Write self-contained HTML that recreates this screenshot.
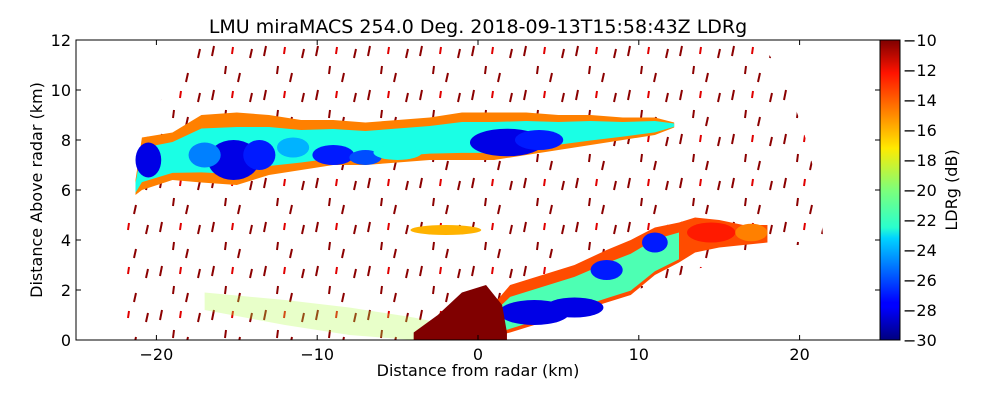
<!DOCTYPE html>
<html><head><meta charset="utf-8"><style>
body{margin:0;background:#fff;}
svg{display:block;font-family:"DejaVu Sans","Liberation Sans",sans-serif;}
</style></head><body>
<svg id="chart" width="1000" height="400" viewBox="0 0 1000 400" xmlns="http://www.w3.org/2000/svg">
<defs>
<pattern id="dashes" width="52" height="44" patternUnits="userSpaceOnUse">
<g stroke="#8b0000" stroke-width="2">
<line x1="4" y1="12" x2="6" y2="2"/><line x1="30" y1="38" x2="32" y2="29"/><line x1="42" y1="14" x2="44" y2="5"/>
<line x1="17" y1="30" x2="18" y2="22"/>
</g>
<line x1="24" y1="10" x2="25" y2="3" stroke="#e00000" stroke-width="2"/>
</pattern>
<linearGradient id="jet" x1="0" y1="1" x2="0" y2="0">
<stop offset="0" stop-color="#00007f"/><stop offset="0.11" stop-color="#0000ff"/>
<stop offset="0.125" stop-color="#0000ff"/><stop offset="0.34" stop-color="#00d4ff"/>
<stop offset="0.375" stop-color="#29ffce"/><stop offset="0.5" stop-color="#7dff7a"/>
<stop offset="0.64" stop-color="#ffea00"/><stop offset="0.66" stop-color="#ffd800"/>
<stop offset="0.89" stop-color="#ff1300"/><stop offset="1" stop-color="#7f0000"/>
</linearGradient>
<clipPath id="plotclip"><rect x="76" y="40" width="804" height="300"/></clipPath>
</defs>
<text x="478" y="33" font-size="19" text-anchor="middle">LMU miraMACS 254.0 Deg. 2018-09-13T15:58:43Z  LDRg</text>
<g id="plot" clip-path="url(#plotclip)"></g>
<rect x="76" y="40" width="804" height="300" fill="none" stroke="#000" stroke-width="1"/>
<g id="axes"></g>
<rect x="880" y="40" width="20" height="300" fill="url(#jet)" stroke="#000" stroke-width="1"/>
<text transform="translate(957,190) rotate(-90)" font-size="16" text-anchor="middle">LDRg (dB)</text>
<text x="478" y="376" font-size="16" text-anchor="middle">Distance from radar (km)</text>
<text transform="translate(42,190) rotate(-90)" font-size="16" text-anchor="middle">Distance Above radar  (km)</text>
</svg>
<script>
// axis ticks
const xTicks=[-20,-10,0,10,20];
const yTicks=[0,2,4,6,8,10,12];
const cbTicks=[-10,-12,-14,-16,-18,-20,-22,-24,-26,-28,-30];
// upper cloud band outline (km)
const bandX=[-21.3,-20.9,-19,-17.2,-15,-13,-11,-9,-7,-5,-3,-1,1,3,5,7,9,11,12.2];
const bandTop=[6.4,8.1,8.3,9.0,9.1,9.0,8.8,8.8,8.7,8.8,8.9,9.1,9.1,9.1,9.0,9.0,8.9,8.9,8.7];
const bandBot=[5.8,6.0,6.4,6.3,6.2,6.6,6.8,7.0,7.0,7.1,7.2,7.2,7.2,7.4,7.6,7.8,8.0,8.2,8.5];
// lower cloud band outline
const lowX=[0.8,2,4,6,8,9.5,11,12.5,13.5,15,16.5,18];
const lowTop=[1.3,2.2,2.6,3.0,3.6,4.0,4.5,4.7,4.9,4.8,4.6,4.6];
const lowBot=[0.1,0.3,0.7,1.1,1.5,1.8,2.6,3.1,3.5,3.7,3.8,3.9];
// cloud cores: center x, center y, radius x, radius y (km), LDR (dB)
const coreX=[-20.5,-15.2,-13.6,-11.5,-9,-7,1.8,3.8,-17,-5,3.5,6,8,11,-2,14.5,17];
const coreY=[7.2,7.2,7.4,7.7,7.4,7.3,7.9,8.0,7.4,7.5,1.1,1.3,2.8,3.9,4.4,4.3,4.3];
const coreRX=[0.8,1.6,1.0,1.0,1.3,1.0,2.3,1.5,1.0,1.5,2.2,1.8,1.0,0.8,2.2,1.5,1.0];
const coreRY=[0.7,0.8,0.6,0.4,0.4,0.3,0.55,0.4,0.5,0.3,0.5,0.4,0.4,0.4,0.2,0.4,0.35];
const coreLDR=[-28,-28,-27,-24,-27,-26,-28,-27,-25,-22,-28,-28,-27,-27,-16,-13,-15];
// low streak and near-radar clutter
const streakX=[-17,-12,-8,-4,-1];
const streakTop=[1.9,1.6,1.3,0.9,0.5];
const streakBot=[1.2,0.6,0.2,0.0,0.0];
const clutterX=[-4,-2.5,-1,0.5,1.5,1.8];
const clutterTop=[0.3,1.0,1.9,2.2,1.4,0.3];

const X0=76,X1=880,Y0=340,Y1=40;
const sx=v=>X0+(v+25)/50*(X1-X0);
const sy=v=>Y0+(v/12)*(Y1-Y0);
const NS="http://www.w3.org/2000/svg";
function jet(v){let t=(v+30)/20;t=Math.max(0,Math.min(1,t));
 const c=a=>Math.round(255*Math.max(0,Math.min(1,1.5-Math.abs(4*t-a))));
 return `rgb(${c(3)},${c(2)},${c(1)})`;}
const plot=document.getElementById('plot');
const axes=document.getElementById('axes');
function mk(tag,attrs,parent){const e=document.createElementNS(NS,tag);for(const k in attrs)e.setAttribute(k,attrs[k]);parent.appendChild(e);return e;}
function bandPath(xs,top,bot){let d='';xs.forEach((x,i)=>d+=(i?'L':'M')+sx(x)+','+sy(top[i]));
 for(let i=xs.length-1;i>=0;i--)d+='L'+sx(xs[i])+','+sy(bot[i]);return d+'Z';}

// scattered echoes region
const scat=mk('path',{d:`M${sx(-22)},${sy(0)} L${sx(-22)},${sy(5)} Q${sx(-20)},${sy(11)} ${sx(-16)},${sy(12.5)} L${sx(17)},${sy(12.5)} Q${sx(21)},${sy(9)} ${sx(21.5)},${sy(3.8)} L${sx(18)},${sy(3.8)} L${sx(0.8)},${sy(0)} Z`,fill:'url(#dashes)'},plot);



// streak
const st=mk('path',{d:bandPath(streakX,streakTop,streakBot),fill:jet(-19),opacity:0.3},plot);



// upper band layers
const b1=mk('path',{d:bandPath(bandX,bandTop,bandBot),fill:jet(-15)},plot);


const innerTop=bandTop.map((v,i)=>v-(v-bandBot[i])*0.2);
const innerBot=bandBot.map((v,i)=>v+(bandTop[i]-v)*0.15);
const b2=mk('path',{d:bandPath(bandX,innerTop,innerBot),fill:jet(-22)},plot);



// lower band
const l1=mk('path',{d:bandPath(lowX,lowTop,lowBot),fill:jet(-14)},plot);


const lInTop=lowTop.map((v,i)=>v-(v-lowBot[i])*0.25);
const lInBot=lowBot.map((v,i)=>v+(lowTop[i]-v)*0.08);
const l2=mk('path',{d:bandPath(lowX.slice(0,8),lInTop.slice(0,8),lInBot.slice(0,8)),fill:jet(-21)},plot);



// cores
coreX.forEach((x,i)=>{
 const e=mk('ellipse',{cx:sx(x),cy:sy(coreY[i]),rx:coreRX[i]*(X1-X0)/50,ry:coreRY[i]*300/12,fill:jet(coreLDR[i])},plot);
 
 
});

// near-radar clutter
let d='M'+sx(clutterX[0])+','+sy(0);
clutterX.forEach((x,i)=>d+='L'+sx(x)+','+sy(clutterTop[i]));
d+='L'+sx(1.8)+','+sy(0)+'Z';
const cl=mk('path',{d:d,fill:jet(-10)},plot);



// ticks
xTicks.forEach(v=>{
 mk('line',{x1:sx(v),x2:sx(v),y1:Y0,y2:Y0-5,stroke:'#000'},axes);
 mk('line',{x1:sx(v),x2:sx(v),y1:Y1,y2:Y1+5,stroke:'#000'},axes);
 const t=mk('text',{x:sx(v),y:Y0+20,'font-size':16,'text-anchor':'middle'},axes);
 t.textContent=(v<0?'\u2212'+(-v):v);
 
 
});
yTicks.forEach(v=>{
 mk('line',{x1:X0,x2:X0+5,y1:sy(v),y2:sy(v),stroke:'#000'},axes);
 mk('line',{x1:X1,x2:X1-5,y1:sy(v),y2:sy(v),stroke:'#000'},axes);
 const t=mk('text',{x:X0-5,y:sy(v)+6,'font-size':16,'text-anchor':'end'},axes);
 t.textContent=v;
 
 
});
cbTicks.forEach(v=>{
 const y=340-(v+30)/20*300;
 mk('line',{x1:896,x2:900,y1:y,y2:y,stroke:'#000'},axes);
 mk('line',{x1:880,x2:884,y1:y,y2:y,stroke:'#000'},axes);
 const t=mk('text',{x:903,y:y+6,'font-size':16},axes);
 t.textContent='\u2212'+(-v);
 
 
});
</script>
</body></html>
